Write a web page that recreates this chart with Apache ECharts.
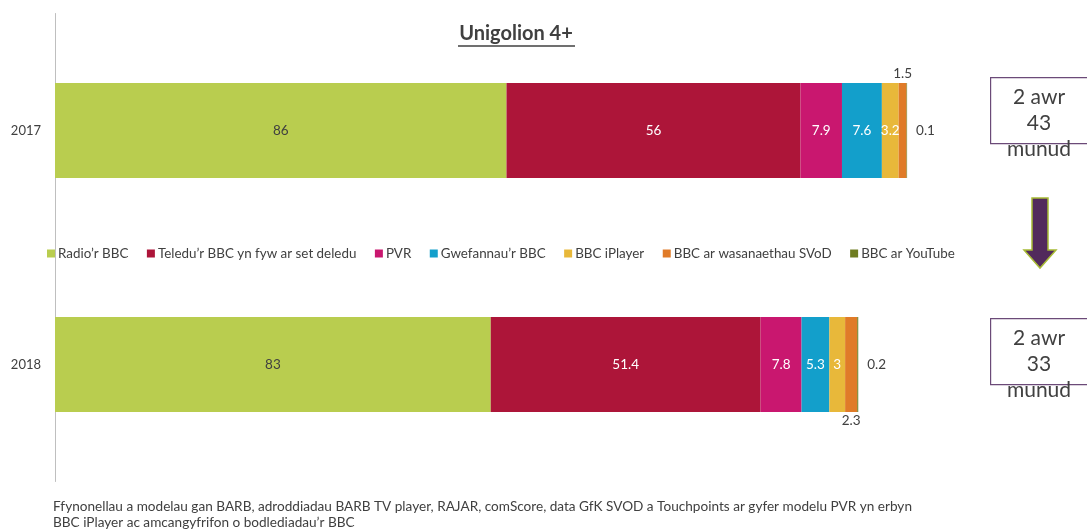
<!DOCTYPE html>
<html><head><meta charset="utf-8">
<script src="https://cdn.jsdelivr.net/npm/echarts@6/dist/echarts.min.js"></script>
<style>html,body{margin:0;padding:0;background:#fff}#c{width:1087px;height:529px}</style>
</head><body><div id="c"></div>
<script>
const years = ['2017', '2018'];
const seriesNames = ["Radio’r BBC", "Teledu’r BBC yn fyw ar set deledu", "PVR", "Gwefannau’r BBC", "BBC iPlayer", "BBC ar wasanaethau SVoD", "BBC ar YouTube"];
const radio = [86, 83];
const teledu = [56, 51.4];
const pvr = [7.9, 7.8];
const gwefannau = [7.6, 5.3];
const iplayer = [3.2, 3];
const svod = [1.5, 2.3];
const youtube = [0.1, 0.2];
const totals = ['2 awr\n43\nmunud', '2 awr\n33\nmunud'];
const titleText = 'Unigolion 4+';
const sourceText = 'Ffynonellau a modelau gan BARB, adroddiadau BARB TV player, RAJAR, comScore, data GfK SVOD a Touchpoints ar gyfer modelu PVR yn erbyn\nBBC iPlayer ac amcangyfrifon o bodlediadau’r BBC';

const colors = ['#b9cd4f', '#ad1539', '#c9176f', '#139fcb', '#e8b83a', '#e07b28', '#6f7d21'];
const values = [radio, teledu, pvr, gwefannau, iplayer, svod, youtube];
const FONT = 'Lato';

const chart = echarts.init(document.getElementById('c'));

function labelFor(si, yi) {
  const base = {show: true, fontFamily: FONT, fontSize: 13.5, formatter: '{c}'};
  if (si === 0) return Object.assign(base, {position: 'inside', color: '#404040'});
  if (si <= 4) return Object.assign(base, {position: 'inside', color: '#ffffff'});
  if (si === 5) return Object.assign(base, {position: yi === 0 ? 'top' : 'bottom', color: '#404040', distance: 2});
  return Object.assign(base, {position: 'right', color: '#404040', distance: 9});
}

const series = values.map((arr, si) => ({
  name: seriesNames[si],
  type: 'bar',
  stack: 'total',
  barWidth: 95,
  itemStyle: {color: colors[si]},
  emphasis: {disabled: true},
  data: arr.map((v, yi) => ({value: v, label: labelFor(si, yi)}))
}));

const boxTop = [77, 318];
const graphics = [];
boxTop.forEach((t, i) => {
  graphics.push({type: 'rect', left: 990, top: t, shape: {width: 100, height: 66}, style: {fill: '#fff', stroke: '#6b4a78', lineWidth: 1.2}, z: 10});
  graphics.push({type: 'text', x: 1039, y: t + 7, style: {text: totals[i], font: '21px ' + FONT, fill: '#404040', align: 'center', verticalAlign: 'top', lineHeight: 26}, z: 11});
});
// arrow
graphics.push({type: 'polygon', shape: {points: [[1032, 198], [1048, 198], [1048, 250], [1056, 250], [1040, 268], [1024, 250], [1032, 250]]}, style: {fill: '#522a5c', stroke: '#a7ba34', lineWidth: 1.5}, z: 10});
// title
graphics.push({type: 'text', x: 516, y: 34, style: {text: titleText, font: 'bold 20px ' + FONT, fill: '#404040', align: 'center', verticalAlign: 'middle'}, z: 10});
graphics.push({type: 'line', shape: {x1: 458, y1: 46, x2: 575, y2: 46}, style: {stroke: '#404040', lineWidth: 1.5}, z: 10});
// footnote
graphics.push({type: 'text', x: 53, y: 499, style: {text: sourceText, font: '13.6px ' + FONT, fill: '#404040', lineHeight: 16, verticalAlign: 'top'}, z: 10});

chart.setOption({
  animation: false,
  color: colors,
  grid: {left: 55, top: 13.5, width: 945, height: 468, containLabel: false},
  xAxis: {type: 'value', min: 0, max: 180, show: false},
  yAxis: {
    type: 'category', data: years, inverse: true,
    axisLine: {show: true, lineStyle: {color: '#bfbfbf', width: 1}},
    axisTick: {show: false},
    axisLabel: {fontFamily: FONT, fontSize: 13, color: '#404040', margin: 14}
  },
  legend: {
    left: 42, top: 242, itemWidth: 8, itemHeight: 8, itemGap: 18.5,
    icon: 'rect',
    textStyle: {fontFamily: FONT, fontSize: 13.4, color: '#404040', padding: [0, 0, 0, -2]},
    data: seriesNames
  },
  series: series,
  graphic: graphics
});
</script></body></html>
